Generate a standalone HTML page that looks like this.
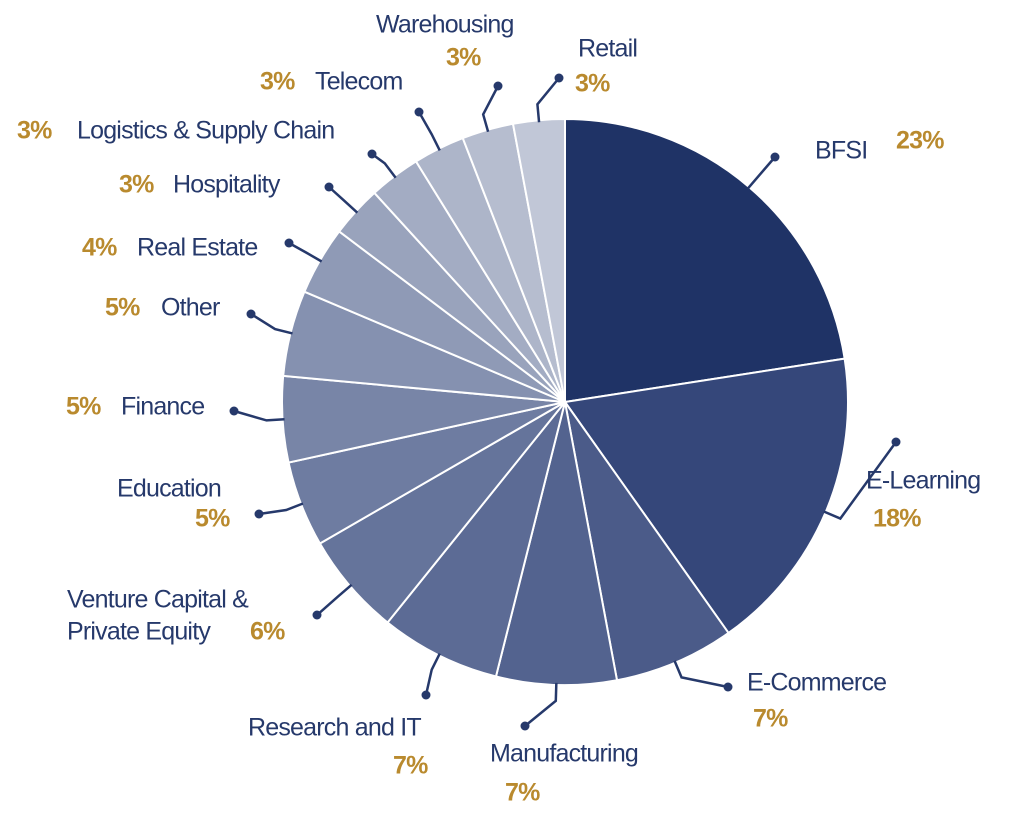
<!DOCTYPE html>
<html><head><meta charset="utf-8">
<style>
html,body{margin:0;padding:0;background:#fff;}
svg{display:block;}
text{font-family:"Liberation Sans",sans-serif;font-size:25px;letter-spacing:-0.8px;dominant-baseline:middle;}
.n{fill:#26396b;}
.p{fill:#b98a2e;font-weight:bold;}
</style></head>
<body>
<svg id="chart" width="1024" height="818" viewBox="0 0 1024 818" xmlns="http://www.w3.org/2000/svg"></svg>
<script>
const categories=["BFSI","E-Learning","E-Commerce","Manufacturing","Research and IT","Venture Capital & Private Equity","Education","Finance","Other","Real Estate","Hospitality","Logistics & Supply Chain","Telecom","Warehousing","Retail"];
const values=[23,18,7,7,7,6,5,5,5,4,3,3,3,3,3];
const pctLabels=["23%","18%","7%","7%","7%","6%","5%","5%","5%","4%","3%","3%","3%","3%","3%"];
const colors=["#1f3366","#35477a","#4b5b89","#53638f","#5c6b95","#65749b","#6e7ca1","#7885a7","#8591b0","#8f9ab6","#99a3bc","#a3acc3","#adb5c9","#b6bdcf","#c1c7d7"];
// label layout: [textParts], dot position
const layout=[
 {dot:[775,157],parts:[["n",815,152,"BFSI"],["p",896,142,"P"]]},
 {dot:[896,442],parts:[["n",866,482,"N"],["p",873,520,"P"]]},
 {dot:[728,687],parts:[["n",747,684,"N"],["p",753,720,"P"]]},
 {dot:[525,726],parts:[["n",490,755,"N"],["p",505,794,"P"]]},
 {dot:[426,695],parts:[["n",248,729,"N"],["p",393,767,"P"]]},
 {dot:[317,615],parts:[["n",67,601,"Venture Capital &"],["n",67,633,"Private Equity"],["p",250,633,"P"]]},
 {dot:[259,514],parts:[["n",117,490,"N"],["p",195,520,"P"]]},
 {dot:[234,411],parts:[["p",66,408,"P"],["n",121,408,"N"]]},
 {dot:[251,314],parts:[["p",105,309,"P"],["n",161,309,"N"]]},
 {dot:[289,243],parts:[["p",82,249,"P"],["n",137,249,"N"]]},
 {dot:[329,187],parts:[["p",119,186,"P"],["n",173,186,"N"]]},
 {dot:[372,154],parts:[["p",17,132,"P"],["n",77,132,"N"]]},
 {dot:[419,112],parts:[["p",260,83,"P"],["n",315,83,"N"]]},
 {dot:[498,86],parts:[["n",376,26,"N"],["p",446,59,"P"]]},
 {dot:[559,78],parts:[["n",578,50,"N"],["p",575,85,"P"]]}
];
const svg=document.getElementById('chart');
const NS="http://www.w3.org/2000/svg";
const cx=565,cy=402,R=283;
const total=values.reduce((a,b)=>a+b,0);
function pt(a,r){return [cx+r*Math.sin(a),cy-r*Math.cos(a)];}
let a0=0;
values.forEach((v,i)=>{
  const a1=a0+v/total*2*Math.PI;
  const p0=pt(a0,R),p1=pt(a1,R);
  const large=(a1-a0)>Math.PI?1:0;
  const path=document.createElementNS(NS,'path');
  path.setAttribute('d',`M${cx},${cy}L${p0[0]},${p0[1]}A${R},${R} 0 ${large} 1 ${p1[0]},${p1[1]}Z`);
  path.setAttribute('fill',colors[i]);
  path.setAttribute('stroke','#fff');
  path.setAttribute('stroke-width','2');
  
  
  svg.appendChild(path);
  const am=(a0+a1)/2;
  const e0=pt(am,R-2),e1=pt(am,R+16);
  const L=layout[i];
  const line=document.createElementNS(NS,'polyline');
  line.setAttribute('points',`${e0[0]},${e0[1]} ${e1[0]},${e1[1]} ${L.dot[0]},${L.dot[1]}`);
  line.setAttribute('fill','none');
  line.setAttribute('stroke','#26396b');
  line.setAttribute('stroke-width','2.5');
  
  
  svg.appendChild(line);
  const dot=document.createElementNS(NS,'circle');
  dot.setAttribute('cx',L.dot[0]);dot.setAttribute('cy',L.dot[1]);dot.setAttribute('r','4.5');
  dot.setAttribute('fill','#26396b');
  
  
  svg.appendChild(dot);
  L.parts.forEach(p=>{
    const t=document.createElementNS(NS,'text');
    t.setAttribute('class',p[0]);
    t.setAttribute('x',p[1]);t.setAttribute('y',p[2]);
    t.textContent=p[3]==="P"?pctLabels[i]:(p[3]==="N"?categories[i]:p[3]);
    
    
    svg.appendChild(t);
  });
  a0=a1;
});
</script>
</body></html>
